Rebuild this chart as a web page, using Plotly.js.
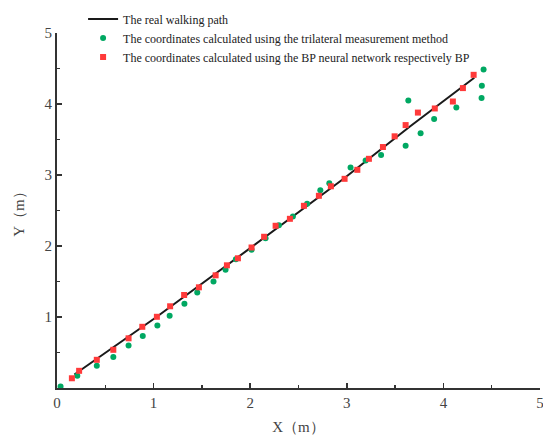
<!DOCTYPE html>
<html>
<head>
<meta charset="utf-8">
<script src="https://cdn.plot.ly/plotly-3.0.1.min.js"></script>
<style>html,body{margin:0;padding:0;background:#fff;}#chart{width:543px;height:435px;}</style>
</head>
<body>
<div id="chart"></div>
<script>
// Real walking path
const pathX = [0.18, 1.03, 2.0, 2.97, 3.65, 4.32];
const pathY = [0.19, 1.0, 1.97, 2.95, 3.68, 4.37];

// Trilateral measurement method
const triX = [0.037,0.210,0.412,0.583,0.741,0.888,1.039,1.166,1.319,1.452,1.620,1.745,1.852,2.014,2.159,2.297,2.442,2.589,2.726,2.819,3.039,3.195,3.355,3.609,3.637,3.764,3.904,4.134,4.395,4.398,4.416];
const triY = [0.021,0.172,0.315,0.435,0.597,0.731,0.882,1.017,1.186,1.344,1.501,1.665,1.815,1.946,2.108,2.292,2.415,2.594,2.785,2.883,3.106,3.204,3.282,3.411,4.049,3.587,3.789,3.951,4.083,4.256,4.486];

// BP neural network
const bpX = [0.154,0.229,0.412,0.583,0.741,0.883,1.034,1.171,1.316,1.469,1.642,1.759,1.873,2.014,2.144,2.263,2.411,2.556,2.711,2.835,2.977,3.109,3.229,3.374,3.495,3.609,3.736,3.911,4.098,4.202,4.313];
const bpY = [0.137,0.242,0.397,0.538,0.700,0.862,1.003,1.151,1.310,1.418,1.587,1.728,1.827,1.979,2.130,2.285,2.383,2.566,2.707,2.841,2.946,3.073,3.228,3.394,3.545,3.703,3.879,3.937,4.035,4.224,4.411];

const names = [
  "The real walking path",
  "The coordinates calculated using the trilateral measurement method",
  "The coordinates calculated using the BP neural network respectively BP"
];
const xTicks = [0,1,2,3,4,5];
const yTicks = [1,2,3,4,5];

const serif = "Liberation Serif, Times New Roman, serif";

const traces = [
  {x: pathX, y: pathY, mode: "lines", name: names[0], line: {color: "#1a1a1a", width: 2}},
  {x: triX, y: triY, mode: "markers", name: names[1], marker: {color: "#00a862", size: 6, symbol: "circle"}},
  {x: bpX, y: bpY, mode: "markers", name: names[2], marker: {color: "#ff3a3a", size: 6, symbol: "square"}}
];

const axisCommon = {
  range: [0, 5],
  showgrid: false,
  zeroline: false,
  showline: true,
  linecolor: "#333",
  linewidth: 2,
  ticks: "inside",
  ticklen: 5,
  tickwidth: 1.5,
  tickcolor: "#333",
  ticklabeloverflow: "allow",
  tickfont: {family: serif, size: 15, color: "#444"},
  minor: {ticks: "inside", dtick: 0.5, ticklen: 3, tickwidth: 1.5, tickcolor: "#333", showgrid: false}
};

const layout = {
  width: 543, height: 435,
  margin: {l: 57, r: 3, t: 33, b: 47},
  paper_bgcolor: "#fff", plot_bgcolor: "#fff",
  showlegend: true,
  legend: {x: 0.054, y: 1.08, xanchor: "left", yanchor: "top", bgcolor: "rgba(0,0,0,0)",
           font: {family: serif, size: 12, color: "#222"}, tracegroupgap: 0},
  xaxis: Object.assign({}, axisCommon, {tickvals: xTicks, ticktext: xTicks.map(String),
    title: {text: "X（m）", font: {family: serif, size: 15, color: "#444"}, standoff: 12}}),
  yaxis: Object.assign({}, axisCommon, {tickvals: yTicks, ticktext: yTicks.map(String),
    title: {text: "Y（m）", font: {family: serif, size: 15, color: "#444"}, standoff: 16}})
};

Plotly.newPlot("chart", traces, layout, {displayModeBar: false, staticPlot: true});
</script>
</body>
</html>
